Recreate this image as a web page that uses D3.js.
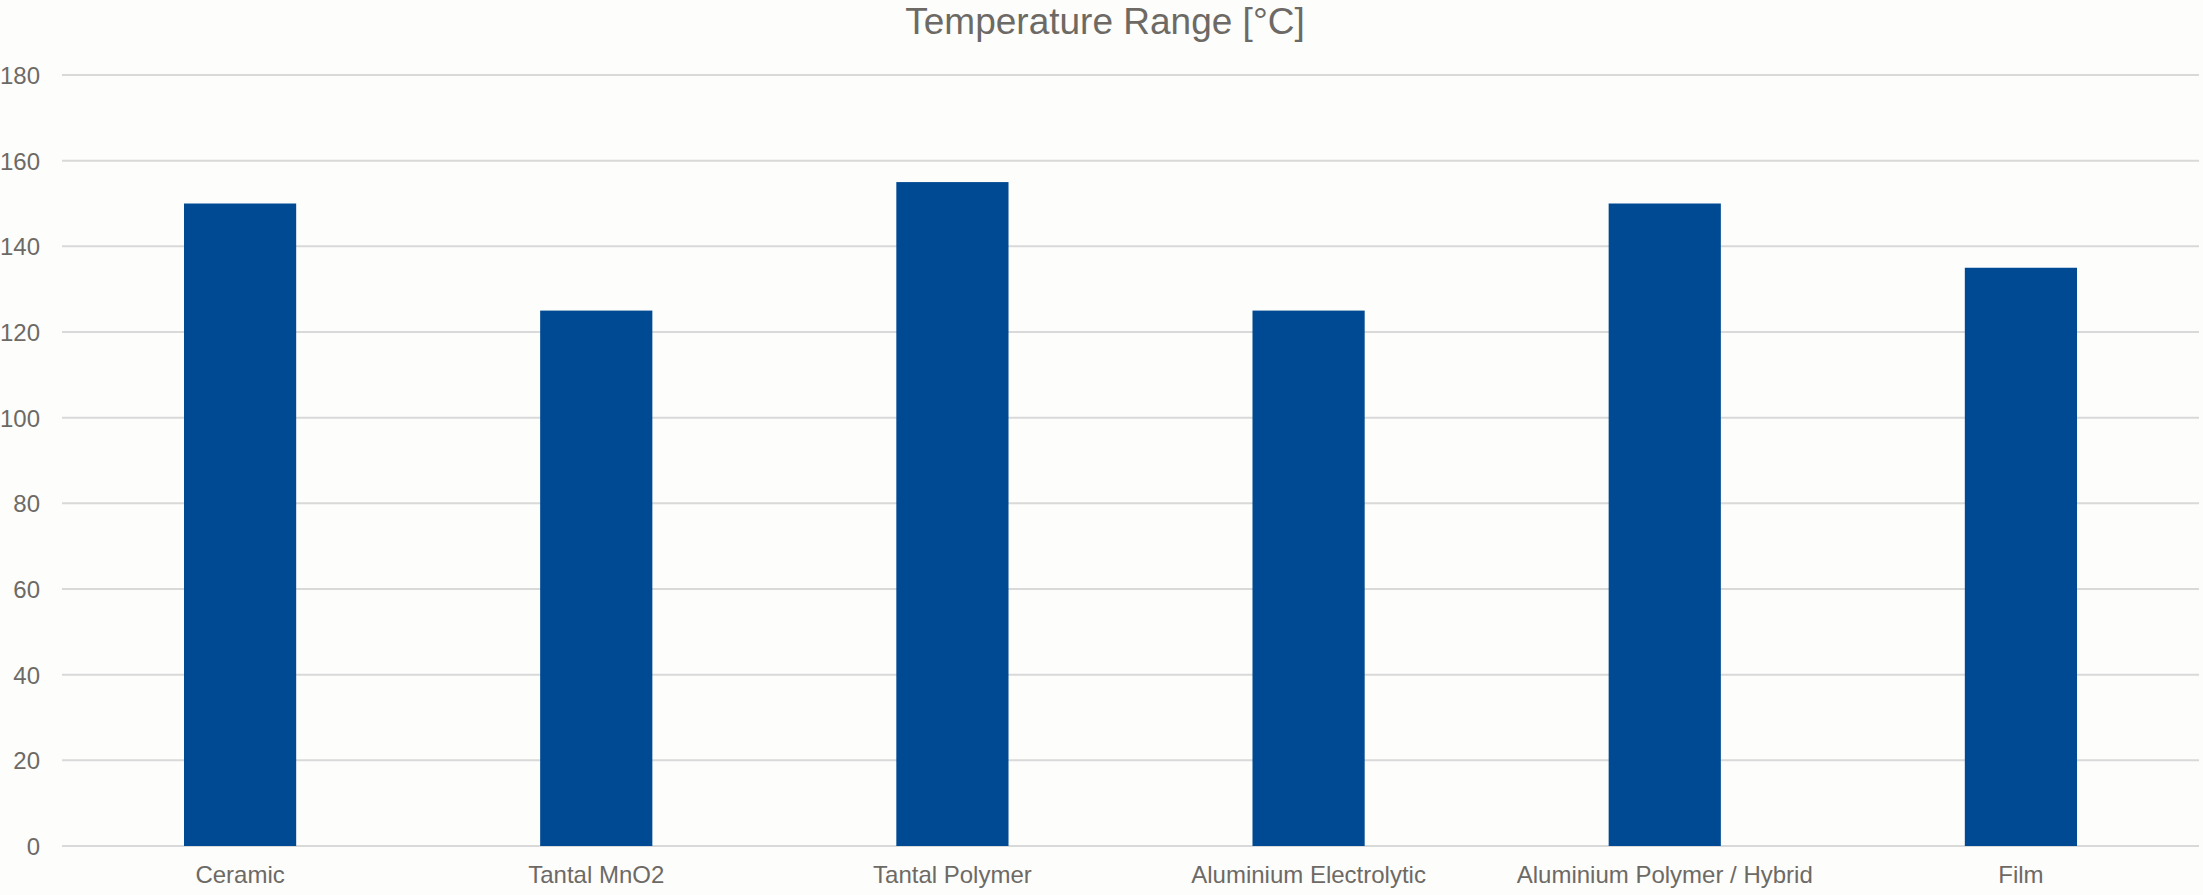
<!DOCTYPE html>
<html>
<head>
<meta charset="utf-8">
<script src="https://cdn.jsdelivr.net/npm/d3@7"></script>
<style>
  html, body { margin: 0; padding: 0; background: #fdfdfc; }
  svg { display: block; }
</style>
</head>
<body>
<svg id="chart" width="2203" height="895"></svg>
<script>
const title = "Temperature Range [°C]";
const categories = ["Ceramic", "Tantal MnO2", "Tantal Polymer", "Aluminium Electrolytic", "Aluminium Polymer / Hybrid", "Film"];
const values = [150, 125, 155, 125, 150, 135];
const yTicks = [0, 20, 40, 60, 80, 100, 120, 140, 160, 180];

const W = 2203, H = 895;
const plot = { left: 62, right: 2199, top: 75, bottom: 846 };
const textColor = "#6d6a65";
const gridColor = "#d9d9d9";
const barColor = "#004a93";

const svg = d3.select("#chart");
svg.append("rect").attr("width", W).attr("height", H).attr("fill", "#fdfdfc");

const x = d3.scaleBand().domain(categories).range([plot.left, plot.right]).padding(0);
const y = d3.scaleLinear().domain([0, 180]).range([plot.bottom, plot.top]);
const barW = x.bandwidth() * 0.315;

// gridlines
svg.append("g").selectAll("line").data(yTicks).join("line")
  .attr("x1", plot.left).attr("x2", plot.right)
  .attr("y1", d => y(d)).attr("y2", d => y(d))
  .attr("stroke", gridColor).attr("stroke-width", 2);

// y axis labels
const yAxis = d3.axisLeft(y).tickValues(yTicks).tickSize(0).tickPadding(0).tickFormat(d3.format("d"));
const yg = svg.append("g").attr("transform", "translate(40,0)").call(yAxis);
yg.select(".domain").remove();
yg.selectAll("text")
  .attr("fill", textColor)
  .attr("font-family", "Liberation Sans, Arial, sans-serif")
  .attr("font-size", 24)
  .attr("dy", "0.36em");

// bars
svg.append("g").selectAll("rect").data(values).join("rect")
  .attr("x", (d, i) => x(categories[i]) + x.bandwidth() / 2 - barW / 2)
  .attr("width", barW)
  .attr("y", d => y(d))
  .attr("height", d => y(0) - y(d))
  .attr("fill", barColor);

// x axis labels
const xAxis = d3.axisBottom(x).tickSize(0).tickPadding(0);
const xg = svg.append("g").attr("transform", `translate(0,${plot.bottom})`).call(xAxis);
xg.select(".domain").remove();
xg.selectAll("text")
  .attr("fill", textColor)
  .attr("font-family", "Liberation Sans, Arial, sans-serif")
  .attr("font-size", 24)
  .attr("y", 37)
  .attr("dy", 0);

// title
svg.append("text")
  .attr("x", 1105).attr("y", 34)
  .attr("text-anchor", "middle")
  .attr("fill", textColor)
  .attr("font-family", "Liberation Sans, Arial, sans-serif")
  .attr("font-size", 37)
  .text(title);
</script>
</body>
</html>
